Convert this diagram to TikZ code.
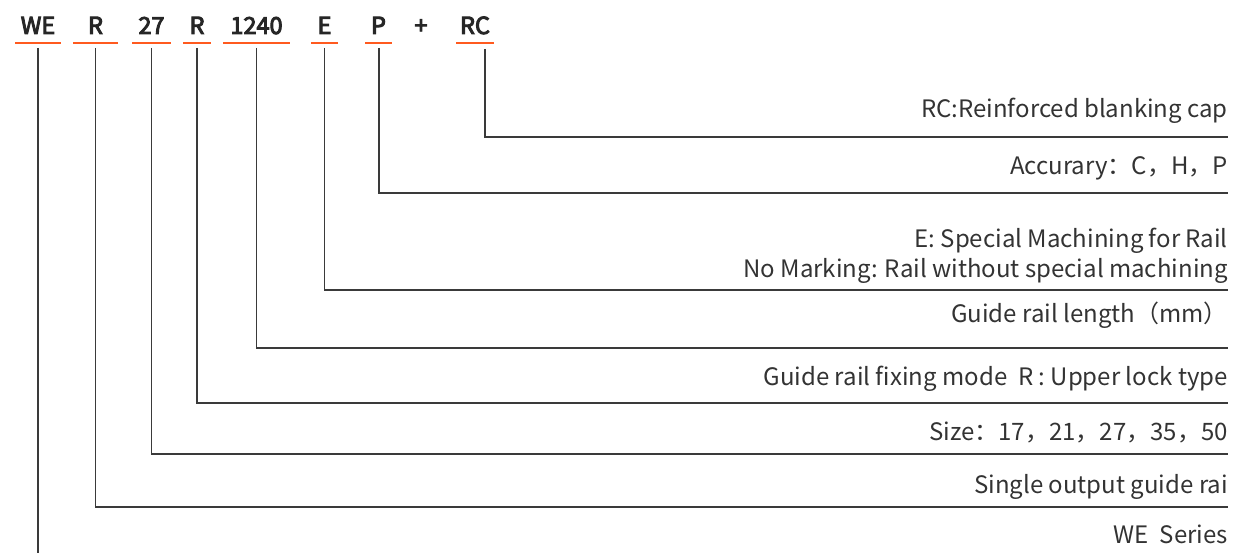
\documentclass[tikz,border=0pt]{standalone}
\usepackage{fontspec}
\setmainfont{Noto Sans CJK SC}
\newfontfamily\hdr[FakeBold=4]{Noto Sans CJK SC}
\definecolor{ink}{HTML}{262626}
\definecolor{lbl}{HTML}{333333}
\definecolor{wire}{HTML}{3A3A3A}
\definecolor{orng}{HTML}{FF5A1F}
\begin{document}
\begin{tikzpicture}[x=1pt,y=-1pt,
  code/.style={anchor=base,inner sep=0pt,font=\fontsize{23.5}{23}\hdr,text=ink},
  lab/.style={anchor=base east,inner sep=0pt,font=\fontsize{24}{30}\selectfont,text=lbl,align=right},
  uline/.style={draw=orng,line width=2.8pt},
  conn/.style={draw=wire,line width=1.4pt}]
\useasboundingbox (0,0) rectangle (1238,553);
% header codes
\node[code] (hWE) at (38,34) {WE};
\node[code] (hR1) at (95.5,34) {R};
\node[code] (h27) at (151.5,34) {27};
\node[code] (hR2) at (197,34) {R};
\node[code] (h1240) at (256.5,34) {1240};
\node[code] (hE) at (324.5,34) {E};
\node[code] (hP) at (378.5,34) {P};
\node[code] (hplus) at (421,34) {+};
\node[code] (hRC) at (475,34) {RC};
% underlines
\draw[uline] (15,43) -- (61,43);
\draw[uline] (73,43) -- (118,43);
\draw[uline] (132,43) -- (171,43);
\draw[uline] (183,43) -- (211,43);
\draw[uline] (223,43) -- (290,43);
\draw[uline] (311,43) -- (338,43);
\draw[uline] (365,43) -- (392,43);
\draw[uline] (456,43) -- (494,43);
% labels
\node[lab] (lRC) at (1228,118) {RC:Reinforced blanking cap};
\node[lab] (lP) at (1228,175) {Accurary：C，H，P};
\node[lab] (lE) at (1228,277) {E: Special Machining for Rail\\No Marking: Rail without special machining};
\node[lab] (l1240) at (1228,322) {Guide rail length（mm）};
\node[lab] (lR2) at (1228,385) {Guide rail fixing mode\ \ R : Upper lock type};
\node[lab] (l27) at (1228,440) {Size：17，21，27，35，50};
\node[lab] (lR1) at (1228,493) {Single output guide rai};
\node[lab] (lWE) at (1228,543) {WE\ \ Series};
% connector coordinates
\coordinate (tWE) at (38,48);
\coordinate (tR1) at (95.5,48);
\coordinate (t27) at (151.5,48);
\coordinate (tR2) at (197,48);
\coordinate (t1240) at (256.5,48);
\coordinate (tE) at (324.5,48);
\coordinate (tP) at (379,48);
\coordinate (tRC) at (485,49);
\coordinate (eRC) at (1228,137);
\coordinate (eP) at (1228,193);
\coordinate (eE) at (1228,290);
\coordinate (e1240) at (1228,348);
\coordinate (eR2) at (1228,403);
\coordinate (e27) at (1228,454);
\coordinate (eR1) at (1228,507);
\coordinate (eWE) at (38,553);
% connectors
\draw[conn] (tRC) |- (eRC);
\draw[conn] (tP) |- (eP);
\draw[conn] (tE) |- (eE);
\draw[conn] (t1240) |- (e1240);
\draw[conn] (tR2) |- (eR2);
\draw[conn] (t27) |- (e27);
\draw[conn] (tR1) |- (eR1);
\draw[conn] (tWE) -- (eWE);
\end{tikzpicture}
\end{document}
